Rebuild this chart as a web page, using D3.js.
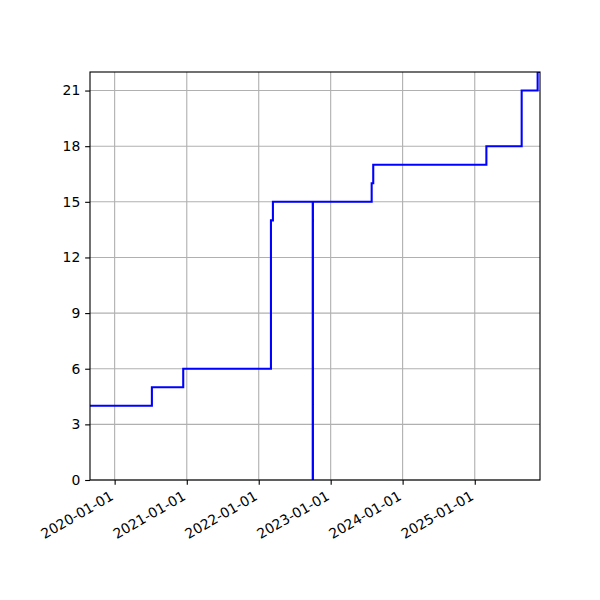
<!DOCTYPE html>
<html>
<head>
<meta charset="utf-8">
<script src="https://cdn.jsdelivr.net/npm/d3@7"></script>
<style>
  html, body { margin: 0; padding: 0; background: #fff; }
  svg { display: block; }
  text { font-family: "DejaVu Sans", sans-serif; }
</style>
</head>
<body>
<svg id="chart" width="600" height="600"></svg>
<script>
// ---- data ----
const stepDates = ["2019-08-29","2020-07-08","2020-12-14","2022-03-04","2022-03-14","2022-10-02","2022-10-03","2023-07-28","2023-08-05","2025-03-01","2025-08-27","2025-11-16","2025-11-28"];
const stepValues = [4, 5, 6, 14, 15, 0, 15, 16, 17, 18, 21, 22, 22];
const xTickLabels = ["2020-01-01","2021-01-01","2022-01-01","2023-01-01","2024-01-01","2025-01-01"];
const yTickValues = [0, 3, 6, 9, 12, 15, 18, 21];
const yDomain = [0, 22];

const parse = d3.utcParse("%Y-%m-%d");
const fmt = d3.utcFormat("%Y-%m-%d");
const data = stepDates.map((d, i) => ({ date: parse(d), value: stepValues[i] }));

const margin = { left: 90, right: 60, top: 72, bottom: 120 };
const W = 600, H = 600;
const iw = W - margin.left - margin.right;
const ih = H - margin.top - margin.bottom;

const svg = d3.select("#chart");
const g = svg.append("g").attr("transform", `translate(${margin.left},${margin.top})`);

const x = d3.scaleUtc()
  .domain(d3.extent(data, d => d.date))
  .range([0, iw]);
const y = d3.scaleLinear().domain(yDomain).range([ih, 0]);

const fontPx = 13.9;
const tickLen = 4.86;
const pad = 4.86;
const thin = 1.11;

// grid
g.append("g").selectAll("line").data(xTickLabels.map(parse)).join("line")
  .attr("x1", d => x(d)).attr("x2", d => x(d))
  .attr("y1", 0).attr("y2", ih)
  .attr("stroke", "#b0b0b0").attr("stroke-width", thin);
g.append("g").selectAll("line").data(yTickValues).join("line")
  .attr("x1", 0).attr("x2", iw)
  .attr("y1", d => y(d)).attr("y2", d => y(d))
  .attr("stroke", "#b0b0b0").attr("stroke-width", thin);

// clip
svg.append("defs").append("clipPath").attr("id", "clip")
  .append("rect").attr("x", 0).attr("y", 0).attr("width", iw).attr("height", ih);

// line
const line = d3.line()
  .x(d => x(d.date))
  .y(d => y(d.value))
  .curve(d3.curveStepAfter);
g.append("path")
  .datum(data)
  .attr("clip-path", "url(#clip)")
  .attr("fill", "none")
  .attr("stroke", "#0000ff")
  .attr("stroke-width", 2.08)
  .attr("d", line);

// axes
const xAxis = d3.axisBottom(x)
  .tickValues(xTickLabels.map(parse))
  .tickFormat(fmt)
  .tickSizeInner(tickLen).tickSizeOuter(0).tickPadding(pad);
const gx = g.append("g").attr("transform", `translate(0,${ih})`).call(xAxis);
gx.select(".domain").remove();
gx.selectAll(".tick line").attr("stroke", "#000").attr("stroke-width", thin);
gx.selectAll(".tick text")
  .attr("font-size", fontPx)
  .attr("font-family", "DejaVu Sans")
  .attr("fill", "#000")
  .attr("text-anchor", "end")
  .attr("y", 0).attr("dy", "0.76em")
  .attr("transform", `translate(-6,${tickLen + pad}) rotate(-30)`);

const yAxis = d3.axisLeft(y)
  .tickValues(yTickValues)
  .tickSizeInner(tickLen).tickSizeOuter(0).tickPadding(pad);
const gy = g.append("g").call(yAxis);
gy.select(".domain").remove();
gy.selectAll(".tick line").attr("stroke", "#000").attr("stroke-width", thin);
gy.selectAll(".tick text")
  .attr("font-size", fontPx)
  .attr("font-family", "DejaVu Sans")
  .attr("fill", "#000");

// frame
g.append("rect")
  .attr("x", 0).attr("y", 0).attr("width", iw).attr("height", ih)
  .attr("fill", "none").attr("stroke", "#000").attr("stroke-width", thin);
</script>
</body>
</html>
